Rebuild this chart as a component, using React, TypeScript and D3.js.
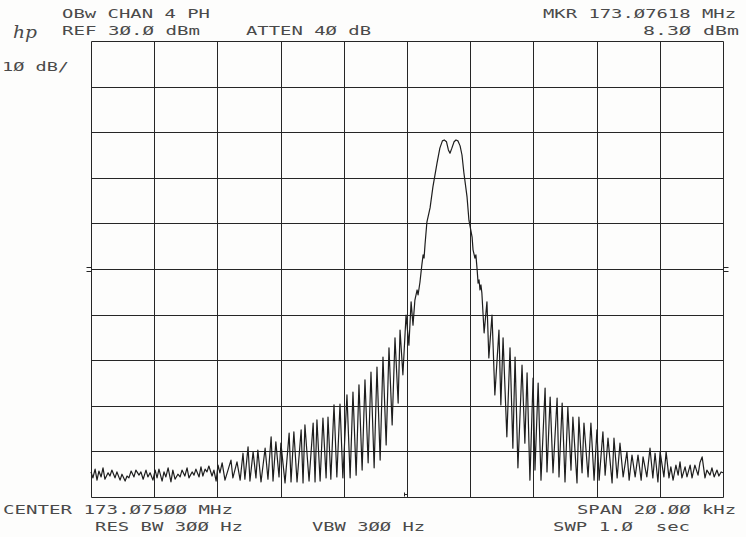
import React from "react";
import * as d3 from "d3";

// Instrument settings (HP spectrum analyzer screen)
const refLevelDBm = 30;
const dbPerDiv = 10;
const spanKHz = 20;
const xDivisions = 10;
const yDivisions = 10;

const traceKHz = [
  -10.0, -9.94, -9.87, -9.81, -9.75, -9.68, -9.62, -9.56, -9.46, -9.4, -9.34, -9.24, -9.18, -9.08, -9.02,
  -8.92, -8.86, -8.8, -8.73, -8.64, -8.58, -8.48, -8.42, -8.35, -8.26, -8.2, -8.13, -8.04, -7.97, -7.91,
  -7.85, -7.75, -7.69, -7.63, -7.56, -7.47, -7.41, -7.34, -7.25, -7.18, -7.12, -7.03, -6.96, -6.9, -6.8,
  -6.74, -6.68, -6.58, -6.52, -6.46, -6.39, -6.33, -6.27, -6.17, -6.11, -6.04, -5.98, -5.92, -5.85, -5.76,
  -5.57, -5.51, -5.38, -5.28, -5.19, -5.13, -5.03, -4.97, -4.87, -4.78, -4.72, -4.62, -4.49, -4.4, -4.3,
  -4.24, -4.15, -4.05, -3.99, -3.86, -3.73, -3.67, -3.58, -3.48, -3.35, -3.29, -3.23, -3.1, -2.97, -2.91,
  -2.85, -2.75, -2.66, -2.56, -2.5, -2.41, -2.31, -2.22, -2.12, -2.03, -1.9, -1.8, -1.71, -1.61, -1.52,
  -1.42, -1.33, -1.23, -1.14, -1.04, -0.95, -0.85, -0.76, -0.66, -0.57, -0.47, -0.38, -0.28, -0.22, -0.13,
  -0.03, 0.06, 0.13, 0.19,
  0.25, 0.32, 0.35, 0.41, 0.47, 0.51, 0.54, 0.57, 0.63, 0.73, 0.82, 0.95, 1.04, 1.12, 1.18, 1.25, 1.31,
  1.36, 1.42, 1.49, 1.55, 1.61, 1.68, 1.74, 1.8, 1.9, 1.96, 2.06, 2.09, 2.15, 2.18, 2.22, 2.25, 2.28, 2.31,
  2.34, 2.37,
  2.44, 2.53, 2.59, 2.69, 2.78, 2.91, 2.97, 3.04, 3.16, 3.26, 3.35, 3.42, 3.51, 3.64, 3.73, 3.8, 3.89, 3.99,
  4.05, 4.15, 4.24, 4.37, 4.43, 4.53, 4.62, 4.75, 4.81, 4.91, 5.0, 5.09, 5.19, 5.25, 5.38, 5.44, 5.54, 5.6,
  5.73, 5.82, 5.92, 6.01, 6.08, 6.2, 6.27, 6.36, 6.49, 6.55, 6.65, 6.74, 6.84, 6.96, 7.03, 7.12, 7.22, 7.31,
  7.41, 7.47, 7.59, 7.69, 7.78, 7.85, 7.94, 8.01, 8.13, 8.2, 8.29,
  8.35, 8.42, 8.51, 8.58, 8.64, 8.7, 8.8, 8.86, 8.96, 9.02, 9.11, 9.21, 9.27, 9.34, 9.43, 9.49, 9.59, 9.65,
  9.72, 9.81, 9.87, 9.94, 10.0,
];
const traceDBm = [
  -64.5, -65.8, -63.9, -66.3, -64.3, -65.6, -63.6, -66.1, -64.7, -65.4, -64.1, -65.8, -64.5, -66.3, -65.0,
  -66.5, -65.4, -65.8, -64.3, -65.6, -64.1, -65.2, -64.5, -66.1, -64.1, -65.6, -64.7, -66.3, -64.1, -65.8,
  -63.9, -66.5, -64.5, -65.6, -63.6, -66.7, -64.1, -66.1, -65.0, -65.6, -64.1, -65.4, -63.6, -65.8, -64.5,
  -65.2, -63.9, -65.6, -63.4, -65.4, -63.9, -64.5, -63.2, -65.4, -64.1, -66.5, -63.0, -64.7, -62.5, -66.3,
  -61.9, -65.8, -62.3, -66.3, -60.4, -66.1, -59.0, -66.5, -60.1, -65.8, -59.7, -66.7, -59.3, -66.1, -56.8,
  -66.5, -57.9, -65.6, -58.2, -66.9, -56.0, -66.7, -55.7, -66.7, -55.3, -66.9, -54.2, -66.5, -53.8, -66.7,
  -53.1, -66.5, -52.7, -65.8, -52.5, -66.1, -49.8, -65.6, -49.6, -65.8, -47.6, -65.8, -47.0, -65.2, -45.4,
  -64.1, -44.3, -62.5, -42.6, -63.6, -41.5, -61.9, -39.3, -58.6, -37.3, -54.2, -35.1, -49.4, -33.4, -43.2,
  -30.1, -36.7, -27.2, -32.3,
  -26.8, -24.6, -25.7, -22.9, -19.1, -16.9, -17.6, -14.7, -9.7, -6.6, -2.0, 3.2, 6.5, 8.1, 8.3, 7.9, 6.1,
  5.4, 6.5, 7.9, 8.3, 8.1, 7.0, 5.0, 1.1, -4.2, -9.3, -13.0, -15.8, -17.6, -16.9, -20.2, -23.1, -22.4, -24.6,
  -23.5, -25.3,
  -34.0, -27.2, -39.5, -30.1, -47.6, -33.4, -49.8, -35.1, -56.8, -37.3, -59.3, -39.3, -63.6, -41.1, -58.2, -42.8, -66.3, -43.9,
  -64.1, -45.0, -66.3, -46.1, -64.5, -48.1, -64.7, -48.3, -65.6, -49.4, -66.7, -50.3, -64.1, -52.5, -66.9, -52.5, -64.7, -53.8,
  -65.6, -53.8, -66.3, -55.3, -66.3, -55.7, -65.2, -57.1, -66.9, -57.1, -65.8, -58.2, -65.6, -60.1, -66.3, -60.8, -65.6, -60.8,
  -66.3, -61.2, -65.6, -59.3, -65.8, -60.4, -66.7, -60.1, -65.6, -60.1, -65.8,
  -63.4, -66.3, -63.0, -65.2, -62.3, -65.8, -63.4, -65.6, -63.0, -65.8, -63.0, -65.2, -62.5, -61.2, -65.8, -64.1, -65.2, -63.6,
  -65.6, -64.1, -65.4, -64.5, -64.7,
];

// Annotation texts as shown on the screen (HP slashed zeros)
const hdrLine1 = "OBw CHAN 4 PH";
const hdrLine2 = "REF 3Ø.Ø dBm";
const attenText = "ATTEN 4Ø dB";
const scaleText = "1Ø dB/";
const mkrLine1 = "MKR 173.Ø7618 MHz";
const mkrLine2 = "8.3Ø dBm";
const centerText = "CENTER 173.Ø75ØØ MHz";
const rbwText = "RES BW 3ØØ Hz";
const vbwText = "VBW 3ØØ Hz";
const spanText = "SPAN 2Ø.ØØ kHz";
const swpText = "SWP 1.Ø  sec";

const W = 746;
const H = 537;
const ink = "#262626";

function ScreenText(props: { x: number; y: number; len: number; children: string }) {
  return (
    <text
      x={props.x}
      y={props.y}
      textLength={props.len}
      lengthAdjust="spacingAndGlyphs"
      fontFamily="'DejaVu Sans Mono', 'Liberation Mono', monospace"
      fontSize={12.4}
      fill="#4a4a4a"
      style={{ whiteSpace: "pre" }}
    >
      {props.children}
    </text>
  );
}

const px = (v: number) => Math.round(v) + 0.5;

export default function App() {
  const x = d3.scaleLinear().domain([-spanKHz / 2, spanKHz / 2]).range([91, 723]);
  const y = d3
    .scaleLinear()
    .domain([refLevelDBm - dbPerDiv * yDivisions, refLevelDBm])
    .range([497, 41]);

  const xTicks = d3.range(xDivisions + 1).map((i) => -spanKHz / 2 + (i * spanKHz) / xDivisions);
  const yTicks = d3.range(yDivisions + 1).map((i) => refLevelDBm - i * dbPerDiv);

  const pts: [number, number][] = traceKHz.map((f, i) => [f, traceDBm[i]]);
  const line = d3
    .line<[number, number]>()
    .x((d) => x(d[0]))
    .y((d) => y(d[1]));

  const midY = px(y(refLevelDBm - (dbPerDiv * yDivisions) / 2));
  const cx = px(x(0));
  const left = px(x(-spanKHz / 2));
  const right = px(x(spanKHz / 2));
  const bottom = px(y(refLevelDBm - dbPerDiv * yDivisions));

  return (
    <svg
      width={W}
      height={H}
      viewBox={`0 0 ${W} ${H}`}
      style={{ position: "absolute", left: 0, top: 0, background: "#fdfdfc" }}
    >
      <rect x={0} y={0} width={W} height={H} fill="#fdfdfc" />
      {/* graticule */}
      <g stroke="#262626" strokeWidth={1}>
        {xTicks.map((t) => (
          <line key={"vx" + t} x1={px(x(t))} x2={px(x(t))} y1={px(y(yTicks[0]))} y2={bottom} />
        ))}
        {yTicks.map((t) => (
          <line key={"hy" + t} x1={left} x2={right} y1={px(y(t))} y2={px(y(t))} />
        ))}
      </g>
      {/* reference marks at mid screen */}
      <g stroke={ink} strokeWidth={1}>
        <line x1={left - 5} x2={left} y1={midY - 2} y2={midY - 2} />
        <line x1={left - 5} x2={left} y1={midY + 2} y2={midY + 2} />
        <line x1={right} x2={right + 5} y1={midY - 2} y2={midY - 2} />
        <line x1={right} x2={right + 5} y1={midY + 2} y2={midY + 2} />
        <path d={`M${cx - 3},${bottom - 1} v-4 M${cx},${bottom - 1} v-4 M${cx - 3},${bottom - 3} h3`} fill="none" />
      </g>
      {/* trace */}
      <path d={line(pts) || ""} fill="none" stroke="#1e1e1e" strokeWidth={1.2} strokeLinejoin="round" />

      {/* hp logo */}
      <text x={13} y={38} fontFamily="'DejaVu Serif', serif" fontStyle="italic" fontSize={17} fill="#4a4a4a" textLength={24} lengthAdjust="spacingAndGlyphs">
        hp
      </text>

      <ScreenText x={62} y={18} len={148}>{hdrLine1}</ScreenText>
      <ScreenText x={62} y={35} len={138}>{hdrLine2}</ScreenText>
      <ScreenText x={246} y={35} len={125}>{attenText}</ScreenText>
      <ScreenText x={2} y={71} len={67}>{scaleText}</ScreenText>
      <ScreenText x={543} y={18} len={193}>{mkrLine1}</ScreenText>
      <ScreenText x={643} y={35} len={96}>{mkrLine2}</ScreenText>
      <ScreenText x={3} y={514} len={230}>{centerText}</ScreenText>
      <ScreenText x={95} y={531} len={148}>{rbwText}</ScreenText>
      <ScreenText x={312} y={531} len={113}>{vbwText}</ScreenText>
      <ScreenText x={577} y={514} len={159}>{spanText}</ScreenText>
      <ScreenText x={553} y={531} len={137}>{swpText}</ScreenText>
    </svg>
  );
}
